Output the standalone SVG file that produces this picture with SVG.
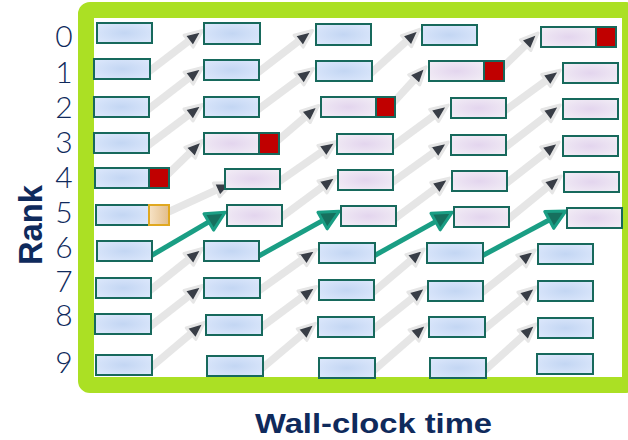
<svg xmlns="http://www.w3.org/2000/svg" width="628" height="440" viewBox="0 0 628 440">
<defs>
<radialGradient id="gb" cx="0.5" cy="0.5" r="0.6"><stop offset="0" stop-color="#c3d6f3"/><stop offset="1" stop-color="#dae6fb"/></radialGradient>
<radialGradient id="gp" cx="0.5" cy="0.5" r="0.6"><stop offset="0" stop-color="#e3d5ee"/><stop offset="1" stop-color="#f1ebf5"/></radialGradient>
<linearGradient id="gt" x1="0" y1="0" x2="1" y2="0"><stop offset="0" stop-color="#f7e3c6"/><stop offset="1" stop-color="#e2bd8a"/></linearGradient>
<marker id="ag" markerUnits="userSpaceOnUse" viewBox="-7 -12 26 24" markerWidth="26" markerHeight="24" refX="0" refY="0" orient="auto"><path d="M-3,-7.5 L14.5,0 L-3,7.5 z" fill="#383d46" stroke="#e6e6e6" stroke-width="3" stroke-linejoin="round"/></marker>
<marker id="at" markerUnits="userSpaceOnUse" viewBox="-6 -13 26 26" markerWidth="26" markerHeight="26" refX="0" refY="0" orient="auto"><path d="M-2,-9.5 L17,0 L-2,9.5 z" fill="#16705e" stroke="#1a9e84" stroke-width="3" stroke-linejoin="round"/></marker>
</defs>
<style>
.b{fill:url(#gb);stroke:#17695c;stroke-width:2}
.p{fill:url(#gp);stroke:#17695c;stroke-width:2}
.r{fill:#c00000;stroke:#17695c;stroke-width:2}
.t{fill:url(#gt);stroke:#e0a820;stroke-width:2}
.g{stroke:#e6e6e6;stroke-width:7.5;fill:none;marker-end:url(#ag)}
.k{stroke:#1a9e84;stroke-width:5;fill:none;marker-end:url(#at)}
.d{font-family:Lato,"Liberation Sans",Arial,sans-serif;font-weight:300;font-size:30px;fill:#0f2a5c;text-anchor:middle}
.l{font-family:"Liberation Sans",Arial,sans-serif;font-weight:bold;fill:#0f2a5c}
</style>
<rect id="frame" x="86" y="10" width="544" height="375" rx="4" fill="#ffffff" stroke="#abe024" stroke-width="16"/>
<g id="labels">
<text class="d" x="64" y="47">0</text>
<text class="d" x="64" y="83">1</text>
<text class="d" x="64" y="118">2</text>
<text class="d" x="64" y="153">3</text>
<text class="d" x="64" y="188">4</text>
<text class="d" x="64" y="223">5</text>
<text class="d" x="64" y="258">6</text>
<text class="d" x="64" y="292">7</text>
<text class="d" x="64" y="326">8</text>
<text class="d" x="64" y="373">9</text>
<text class="l" font-size="33" transform="translate(42,225) rotate(-90)" text-anchor="middle" textLength="80" lengthAdjust="spacingAndGlyphs">Rank</text>
<text class="l" font-size="28.5" x="255" y="433" textLength="237" lengthAdjust="spacingAndGlyphs">Wall-clock time</text>
</g>
<g id="connectors">
<line class="g" x1="147" y1="73" x2="191" y2="39.3"/>
<line class="g" x1="146" y1="111" x2="191" y2="76.3"/>
<line class="g" x1="146" y1="147" x2="190.9" y2="113.2"/>
<line class="g" x1="166" y1="176" x2="192.2" y2="150.6"/>
<line class="g" x1="166" y1="213" x2="219.3" y2="188.7"/>
<line class="g" x1="148" y1="292" x2="191.1" y2="257.5"/>
<line class="g" x1="148" y1="328" x2="191" y2="294.4"/>
<line class="g" x1="149" y1="369" x2="193.3" y2="331.7"/>
<line class="g" x1="256" y1="74" x2="301" y2="39.3"/>
<line class="g" x1="256" y1="111" x2="301.8" y2="77.1"/>
<line class="g" x1="276" y1="142" x2="307.6" y2="114.9"/>
<line class="g" x1="277" y1="183" x2="324.6" y2="149.8"/>
<line class="g" x1="279" y1="219" x2="324.8" y2="185.1"/>
<line class="g" x1="257" y1="292" x2="304.7" y2="257.9"/>
<line class="g" x1="259" y1="329" x2="304.8" y2="295.1"/>
<line class="g" x1="260" y1="370" x2="304.3" y2="332.7"/>
<line class="g" x1="369" y1="75" x2="408.7" y2="39.1"/>
<line class="g" x1="392" y1="104" x2="416.2" y2="77.6"/>
<line class="g" x1="390" y1="148" x2="436.5" y2="113.7"/>
<line class="g" x1="390" y1="184" x2="436.4" y2="150.6"/>
<line class="g" x1="393" y1="220" x2="437.6" y2="186.8"/>
<line class="g" x1="371" y1="294" x2="413.1" y2="258.4"/>
<line class="g" x1="371" y1="331" x2="414.8" y2="296.1"/>
<line class="g" x1="372" y1="372" x2="416.2" y2="333.5"/>
<line class="g" x1="500" y1="70" x2="527.7" y2="43.1"/>
<line class="g" x1="503" y1="112" x2="548.5" y2="78.7"/>
<line class="g" x1="503" y1="149" x2="548.7" y2="113.9"/>
<line class="g" x1="504" y1="185" x2="547.7" y2="151"/>
<line class="g" x1="506" y1="221" x2="549.9" y2="185.2"/>
<line class="g" x1="480" y1="294" x2="523.8" y2="259.1"/>
<line class="g" x1="482" y1="331" x2="524.9" y2="296.2"/>
<line class="g" x1="483" y1="372" x2="525.4" y2="333.7"/>
<line class="k" x1="149" y1="257" x2="210.5" y2="220.9"/>
<line class="k" x1="257" y1="257" x2="324.3" y2="219.6"/>
<line class="k" x1="372" y1="257" x2="437.3" y2="220.6"/>
<line class="k" x1="480" y1="257" x2="551" y2="219"/>
</g>
<g id="n-r0-c0"><rect class="b" x="97" y="23" width="55" height="20"/></g>
<g id="n-r1-c0"><rect class="b" x="94" y="59" width="56" height="20"/></g>
<g id="n-r2-c0"><rect class="b" x="94" y="97" width="55" height="20"/></g>
<g id="n-r3-c0"><rect class="b" x="94" y="133" width="55" height="20"/></g>
<g id="n-r4-c0"><rect class="b" x="95" y="168" width="54" height="20"/><rect class="r" x="149" y="168" width="20" height="20"/></g>
<g id="n-r5-c0"><rect class="b" x="96" y="205" width="53" height="20"/><rect class="t" x="149" y="205" width="20" height="20"/></g>
<g id="n-r6-c0"><rect class="b" x="97" y="241" width="55" height="20"/></g>
<g id="n-r7-c0"><rect class="b" x="96" y="278" width="55" height="20"/></g>
<g id="n-r8-c0"><rect class="b" x="95" y="314" width="56" height="20"/></g>
<g id="n-r9-c0"><rect class="b" x="96" y="355" width="56" height="20"/></g>
<g id="n-r0-c1"><rect class="b" x="204" y="23" width="56" height="21"/></g>
<g id="n-r1-c1"><rect class="b" x="204" y="60" width="55" height="20"/></g>
<g id="n-r2-c1"><rect class="b" x="204" y="97" width="55" height="20"/></g>
<g id="n-r3-c1"><rect class="p" x="204" y="133" width="55" height="21"/><rect class="r" x="259" y="133" width="20" height="21"/></g>
<g id="n-r4-c1"><rect class="p" x="225" y="169" width="55" height="20"/></g>
<g id="n-r5-c1"><rect class="p" x="227" y="205" width="55" height="21"/></g>
<g id="n-r6-c1"><rect class="b" x="204" y="241" width="55" height="20"/></g>
<g id="n-r7-c1"><rect class="b" x="204" y="278" width="56" height="20"/></g>
<g id="n-r8-c1"><rect class="b" x="206" y="315" width="56" height="20"/></g>
<g id="n-r9-c1"><rect class="b" x="207" y="356" width="56" height="20"/></g>
<g id="n-r0-c2"><rect class="b" x="316" y="24" width="55" height="21"/></g>
<g id="n-r1-c2"><rect class="b" x="316" y="61" width="56" height="20"/></g>
<g id="n-r2-c2"><rect class="p" x="321" y="97" width="55" height="20"/><rect class="r" x="376" y="97" width="19" height="20"/></g>
<g id="n-r3-c2"><rect class="p" x="337" y="134" width="56" height="20"/></g>
<g id="n-r4-c2"><rect class="p" x="338" y="170" width="55" height="20"/></g>
<g id="n-r5-c2"><rect class="p" x="341" y="206" width="55" height="20"/></g>
<g id="n-r6-c2"><rect class="b" x="319" y="243" width="56" height="20"/></g>
<g id="n-r7-c2"><rect class="b" x="319" y="280" width="55" height="20"/></g>
<g id="n-r8-c2"><rect class="b" x="318" y="317" width="56" height="20"/></g>
<g id="n-r9-c2"><rect class="b" x="319" y="358" width="56" height="20"/></g>
<g id="n-r0-c3"><rect class="b" x="422" y="25" width="55" height="20"/></g>
<g id="n-r1-c3"><rect class="p" x="429" y="61" width="55" height="20"/><rect class="r" x="484" y="61" width="20" height="20"/></g>
<g id="n-r2-c3"><rect class="p" x="451" y="98" width="55" height="20"/></g>
<g id="n-r3-c3"><rect class="p" x="451" y="135" width="55" height="20"/></g>
<g id="n-r4-c3"><rect class="p" x="452" y="171" width="55" height="20"/></g>
<g id="n-r5-c3"><rect class="p" x="454" y="207" width="55" height="20"/></g>
<g id="n-r6-c3"><rect class="b" x="427" y="243" width="56" height="20"/></g>
<g id="n-r7-c3"><rect class="b" x="428" y="281" width="55" height="20"/></g>
<g id="n-r8-c3"><rect class="b" x="429" y="317" width="56" height="20"/></g>
<g id="n-r9-c3"><rect class="b" x="430" y="358" width="56" height="20"/></g>
<g id="n-r0-c4"><rect class="p" x="541" y="27" width="55" height="20"/><rect class="r" x="596" y="27" width="20" height="20"/></g>
<g id="n-r1-c4"><rect class="p" x="563" y="63" width="55" height="20"/></g>
<g id="n-r2-c4"><rect class="p" x="563" y="99" width="55" height="20"/></g>
<g id="n-r3-c4"><rect class="p" x="563" y="136" width="55" height="20"/></g>
<g id="n-r4-c4"><rect class="p" x="564" y="172" width="55" height="20"/></g>
<g id="n-r5-c4"><rect class="p" x="567" y="208" width="55" height="20"/></g>
<g id="n-r6-c4"><rect class="b" x="538" y="244" width="55" height="20"/></g>
<g id="n-r7-c4"><rect class="b" x="538" y="281" width="55" height="20"/></g>
<g id="n-r8-c4"><rect class="b" x="538" y="318" width="55" height="20"/></g>
<g id="n-r9-c4"><rect class="b" x="537" y="354" width="56" height="20"/></g>
</svg>
